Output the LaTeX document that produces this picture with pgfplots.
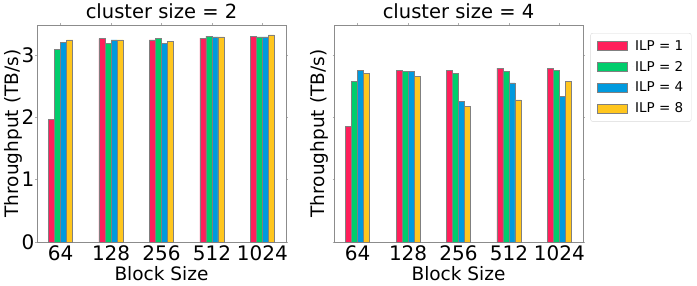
\documentclass[border=0pt]{standalone}
\usepackage{pgfplots}
\pgfplotsset{compat=1.18}
\usepackage{fontspec}
\setmainfont{DejaVu Sans}
\definecolor{cR}{HTML}{FF1F5B}
\definecolor{cG}{HTML}{00CD6C}
\definecolor{cB}{HTML}{009ADE}
\definecolor{cY}{HTML}{FFC61E}
\definecolor{frame}{HTML}{8C8C8C}
\pgfplotsset{
  myax/.style={
    scale only axis, width=249pt, height=217pt,
    xmin=-0.47, xmax=4.47, ymin=0, ymax=3.48,
    xtick={0,1,2,3,4}, xticklabels={64,128,256,512,1024},
    ytick={0,1,2,3},
    tick align=outside, major tick length=1.5pt,
    tick style={frame!70, line width=0.6pt},
    axis line style={frame, line width=0.9pt},
    ticklabel style={font=\fontsize{20}{20}\selectfont},
    xticklabel style={anchor=base, yshift=-17pt, inner sep=0pt},
    yticklabel style={inner xsep=0pt, xshift=-1pt},
    label style={font=\fontsize{18.5}{18.5}\selectfont},
    xlabel style={at={(axis description cs:0.5,0)}, anchor=base, yshift=-39pt, inner sep=0pt},
    title style={font=\fontsize{19.5}{19.5}\selectfont, yshift=-3pt},
    xlabel={Block Size}, ylabel={Throughput (TB/s)},
    /pgf/number format/assume math mode=true,
    clip=false,
  },
  bR/.style={ybar, bar width=0.12, bar shift=-0.18, fill=cR, draw=gray, line width=0.6pt},
  bG/.style={ybar, bar width=0.12, bar shift=-0.06, fill=cG, draw=gray, line width=0.6pt},
  bB/.style={ybar, bar width=0.12, bar shift=0.06, fill=cB, draw=gray, line width=0.6pt},
  bY/.style={ybar, bar width=0.12, bar shift=0.18, fill=cY, draw=gray, line width=0.6pt},
}
\begin{document}
\begin{tikzpicture}
\useasboundingbox (-37pt,-44pt) rectangle (660pt,242pt);
\begin{axis}[myax, at={(0pt,0pt)}, anchor=south west, title={cluster size = 2},
  ylabel style={yshift=-4pt}]
\addplot[bR] coordinates {(0,1.97) (1,3.26) (2,3.24) (3,3.27) (4,3.30)};
\addplot[bG] coordinates {(0,3.09) (1,3.19) (2,3.27) (3,3.30) (4,3.29)};
\addplot[bB] coordinates {(0,3.20) (1,3.24) (2,3.19) (3,3.29) (4,3.29)};
\addplot[bY] coordinates {(0,3.24) (1,3.24) (2,3.22) (3,3.29) (4,3.32)};
\end{axis}
\begin{axis}[myax, at={(297pt,0pt)}, anchor=south west, title={cluster size = 4}, yticklabels={},
  ylabel style={yshift=-1.5pt},
  legend style={at={(1.03,0.963)}, anchor=north west, draw=black!15, rounded corners=2pt,
    font=\fontsize{13.5}{13.5}\selectfont, row sep=5.5pt, inner xsep=6pt, inner ysep=5pt},
  legend image code/.code={\draw[#1, rounded corners=0pt] (0pt,-4.5pt) rectangle (30pt,4.5pt); \path[draw=none] (36pt,0pt) circle (0.1pt);},
  legend cell align=left]
\addplot[bR] coordinates {(0,1.86) (1,2.75) (2,2.75) (3,2.79) (4,2.79)};
\addplot[bG] coordinates {(0,2.58) (1,2.74) (2,2.71) (3,2.73) (4,2.75)};
\addplot[bB] coordinates {(0,2.75) (1,2.74) (2,2.25) (3,2.55) (4,2.33)};
\addplot[bY] coordinates {(0,2.71) (1,2.65) (2,2.18) (3,2.28) (4,2.58)};
\legend{ILP = 1, ILP = 2, ILP = 4, ILP = 8}
\end{axis}
\end{tikzpicture}
\end{document}
